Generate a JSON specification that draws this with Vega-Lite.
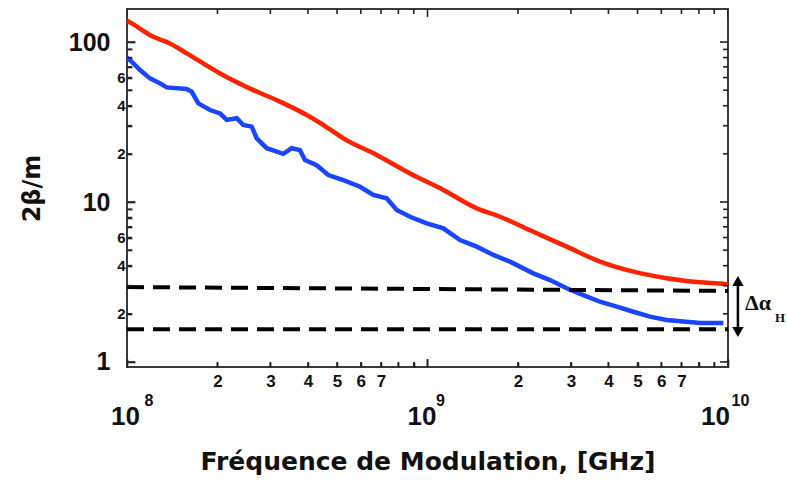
{
  "$schema": "https://vega.github.io/schema/vega-lite/v6.json",
  "width": 601,
  "height": 358,
  "autosize": "none",
  "padding": {"left": 127, "top": 9, "right": 59, "bottom": 117},
  "background": "white",
  "config": {
    "view": {"stroke": "#3a3a3a", "strokeWidth": 2},
    "axis": {"grid": false, "domain": false, "labelColor": "#111", "titleColor": "#111", "labelFlush": false, "labelOverlap": false}
  },
  "datasets": {
    "red": [
      {"f": 1.0e8, "v": 136}, {"f": 1.037e8, "v": 130.9}, {"f": 1.223e8, "v": 107.9}, {"f": 1.39e8, "v": 98.1},
      {"f": 1.58e8, "v": 85.0}, {"f": 2.039e8, "v": 63.7}, {"f": 2.633e8, "v": 50.1}, {"f": 3.229e8, "v": 42.4},
      {"f": 3.963e8, "v": 35.0}, {"f": 4.677e8, "v": 28.9}, {"f": 5.246e8, "v": 25.0}, {"f": 6.776e8, "v": 19.7},
      {"f": 8.745e8, "v": 15.1}, {"f": 1.129e9, "v": 11.9}, {"f": 1.458e9, "v": 9.13}, {"f": 1.743e9, "v": 8.09},
      {"f": 2.249e9, "v": 6.52}, {"f": 2.905e9, "v": 5.26}, {"f": 3.75e9, "v": 4.24}, {"f": 4.841e9, "v": 3.67},
      {"f": 6.252e9, "v": 3.34}, {"f": 8.069e9, "v": 3.15}, {"f": 9.772e9, "v": 3.07}, {"f": 1.0e10, "v": 3.05}
    ],
    "blue": [
      {"f": 1.0e8, "v": 80}, {"f": 1.037e8, "v": 75.3}, {"f": 1.105e8, "v": 66.8}, {"f": 1.193e8, "v": 59.3},
      {"f": 1.288e8, "v": 55.2}, {"f": 1.355e8, "v": 52.1}, {"f": 1.58e8, "v": 50.9}, {"f": 1.642e8, "v": 48.9},
      {"f": 1.727e8, "v": 41.4}, {"f": 1.889e8, "v": 37.6}, {"f": 2.039e8, "v": 35.8}, {"f": 2.147e8, "v": 32.6},
      {"f": 2.318e8, "v": 33.4}, {"f": 2.438e8, "v": 30.3}, {"f": 2.6e8, "v": 29.6}, {"f": 2.702e8, "v": 25.0},
      {"f": 2.917e8, "v": 21.7}, {"f": 3.312e8, "v": 20.0}, {"f": 3.532e8, "v": 21.7}, {"f": 3.764e8, "v": 21.1},
      {"f": 3.911e8, "v": 18.3}, {"f": 4.278e8, "v": 17.0}, {"f": 4.677e8, "v": 14.75}, {"f": 5.246e8, "v": 13.7},
      {"f": 5.963e8, "v": 12.46}, {"f": 6.601e8, "v": 11.06}, {"f": 7.314e8, "v": 10.55}, {"f": 7.898e8, "v": 8.91},
      {"f": 8.745e8, "v": 8.09}, {"f": 9.94e8, "v": 7.36}, {"f": 1.129e9, "v": 6.85}, {"f": 1.283e9, "v": 5.79},
      {"f": 1.458e9, "v": 5.26}, {"f": 1.656e9, "v": 4.67}, {"f": 1.882e9, "v": 4.24}, {"f": 2.249e9, "v": 3.58},
      {"f": 2.557e9, "v": 3.25}, {"f": 2.905e9, "v": 2.89}, {"f": 3.3e9, "v": 2.62}, {"f": 3.75e9, "v": 2.38},
      {"f": 4.263e9, "v": 2.22}, {"f": 4.841e9, "v": 2.06}, {"f": 5.501e9, "v": 1.92}, {"f": 6.252e9, "v": 1.83},
      {"f": 7.101e9, "v": 1.79}, {"f": 8.069e9, "v": 1.75}, {"f": 9.647e9, "v": 1.75}
    ],
    "dash": [
      {"f": 1.0e8, "v": 2.94, "k": "upper"}, {"f": 1.0e10, "v": 2.78, "k": "upper"},
      {"f": 1.0e8, "v": 1.6, "k": "lower"}, {"f": 1.0e10, "v": 1.6, "k": "lower"}
    ],
    "xmaj": [{"f": 1e8}, {"f": 1e9}, {"f": 1e10}],
    "xmin": [{"f": 2e8}, {"f": 3e8}, {"f": 4e8}, {"f": 5e8}, {"f": 6e8}, {"f": 7e8}, {"f": 8e8}, {"f": 9e8},
             {"f": 2e9}, {"f": 3e9}, {"f": 4e9}, {"f": 5e9}, {"f": 6e9}, {"f": 7e9}, {"f": 8e9}, {"f": 9e9}],
    "ymaj": [{"v": 1}, {"v": 10}, {"v": 100}],
    "ymin": [{"v": 2}, {"v": 3}, {"v": 4}, {"v": 5}, {"v": 6}, {"v": 7}, {"v": 8}, {"v": 9},
             {"v": 20}, {"v": 30}, {"v": 40}, {"v": 50}, {"v": 60}, {"v": 70}, {"v": 80}, {"v": 90}],
    "arrow": [{"f": 1.079e10, "v1": 1.63, "v2": 3.03}],
    "headUp": [{"f": 1.079e10, "v": 3.21}],
    "headDown": [{"f": 1.079e10, "v": 1.54}],
    "delta": [{"f": 1.139e10, "v": 2.11, "t": "Δα"}],
    "sub": [{"f": 1.434e10, "v": 1.78, "t": "H"}]
  },
  "layer": [
    {
      "data": {"name": "red"},
      "mark": {"type": "line", "color": "#ff2200", "strokeWidth": 4.5, "interpolate": "monotone"},
      "encoding": {
        "x": {"field": "f", "type": "quantitative", "scale": {"type": "log", "domain": [1e8, 1e10], "nice": false},
          "axis": {"orient": "bottom", "values": [1e8, 1e9, 1e10], "offset": -8, "tickSize": 8, "tickColor": "#222", "tickWidth": 1.6,
            "labelExpr": "'10'",
            "labelOffset": {"condition": [{"test": "datum.value < 5e8", "value": -2}, {"test": "datum.value < 5e9", "value": -6}], "value": -13},
            "labelFont": "Liberation Sans", "labelFontWeight": "bold", "labelFontSize": 26,
            "labelBaseline": "alphabetic", "labelPadding": 57,
            "title": "Fréquence de Modulation, [GHz]", "titleFont": "DejaVu Sans", "titleFontSize": 25,
            "titleFontWeight": "bold", "titlePadding": 20}},
        "y": {"field": "v", "type": "quantitative", "scale": {"type": "log", "domain": [0.93, 161], "nice": false},
          "axis": {"orient": "left", "values": [1, 10, 100], "offset": -8, "tickSize": 8, "tickColor": "#222", "tickWidth": 1.6,
            "labelFont": "Liberation Sans", "labelFontWeight": "bold", "labelFontSize": 25,
            "labelPadding": 17, "labelBaseline": "middle",
            "title": "2β/m", "titleFont": "DejaVu Sans", "titleFontSize": 24, "titleFontWeight": "bold", "titlePadding": 24}}
      }
    },
    {
      "data": {"name": "blue"},
      "mark": {"type": "line", "color": "#1a45ff", "strokeWidth": 4.5},
      "encoding": {
        "x": {"field": "f", "type": "quantitative", "scale": {"type": "log", "domain": [1e8, 1e10], "nice": false},
          "axis": {"orient": "bottom", "values": [2e8, 3e8, 4e8, 5e8, 6e8, 7e8, 8e8, 9e8, 2e9, 3e9, 4e9, 5e9, 6e9, 7e9, 8e9, 9e9],
            "offset": -5, "tickSize": 5, "tickColor": "#222", "tickWidth": 1.6,
            "labelExpr": "round(datum.value / pow(10, floor(log(datum.value)/LN10 + 0.000001))) <= 7 ? '' + round(datum.value / pow(10, floor(log(datum.value)/LN10 + 0.000001))) : ''",
            "labelFont": "Liberation Sans", "labelFontWeight": "bold", "labelFontSize": 17,
            "labelBaseline": "top", "labelPadding": 6, "title": ""}},
        "y": {"field": "v", "type": "quantitative", "scale": {"type": "log", "domain": [0.93, 161], "nice": false},
          "axis": {"orient": "left", "values": [2, 3, 4, 5, 6, 7, 8, 9, 20, 30, 40, 50, 60, 70, 80, 90],
            "offset": -5, "tickSize": 5, "tickColor": "#222", "tickWidth": 1.6,
            "labelExpr": "indexof([2, 4, 6], round(datum.value / pow(10, floor(log(datum.value)/LN10 + 0.000001)))) >= 0 ? '' + round(datum.value / pow(10, floor(log(datum.value)/LN10 + 0.000001))) : ''",
            "labelFont": "Liberation Sans", "labelFontWeight": "bold", "labelFontSize": 15,
            "labelPadding": 2, "labelBaseline": "middle", "title": ""}}
      }
    },
    {
      "data": {"name": "dash"},
      "mark": {"type": "line", "color": "black", "strokeWidth": 4, "strokeDash": [17, 9], "strokeCap": "butt"},
      "encoding": {
        "x": {"field": "f", "type": "quantitative", "scale": {"type": "log", "domain": [1e8, 1e10], "nice": false}, "axis": null},
        "y": {"field": "v", "type": "quantitative", "scale": {"type": "log", "domain": [0.93, 161], "nice": false}, "axis": null},
        "detail": {"field": "k"}
      }
    },
    {
      "data": {"name": "xmaj"},
      "mark": {"type": "tick", "orient": "vertical", "size": 16, "thickness": 1.6, "color": "#222", "opacity": 1, "clip": true},
      "encoding": {
        "x": {"field": "f", "type": "quantitative", "scale": {"type": "log", "domain": [1e8, 1e10], "nice": false}, "axis": null},
        "y": {"datum": 0.93, "type": "quantitative", "scale": {"type": "log", "domain": [0.93, 161], "nice": false}, "axis": null}
      }
    },
    {
      "data": {"name": "xmaj"},
      "mark": {"type": "tick", "orient": "vertical", "size": 16, "thickness": 1.6, "color": "#222", "opacity": 1, "clip": true},
      "encoding": {
        "x": {"field": "f", "type": "quantitative", "scale": {"type": "log", "domain": [1e8, 1e10], "nice": false}, "axis": null},
        "y": {"datum": 161, "type": "quantitative", "scale": {"type": "log", "domain": [0.93, 161], "nice": false}, "axis": null}
      }
    },
    {
      "data": {"name": "xmin"},
      "mark": {"type": "tick", "orient": "vertical", "size": 10, "thickness": 1.6, "color": "#222", "opacity": 1, "clip": true},
      "encoding": {
        "x": {"field": "f", "type": "quantitative", "scale": {"type": "log", "domain": [1e8, 1e10], "nice": false}, "axis": null},
        "y": {"datum": 0.93, "type": "quantitative", "scale": {"type": "log", "domain": [0.93, 161], "nice": false}, "axis": null}
      }
    },
    {
      "data": {"name": "xmin"},
      "mark": {"type": "tick", "orient": "vertical", "size": 10, "thickness": 1.6, "color": "#222", "opacity": 1, "clip": true},
      "encoding": {
        "x": {"field": "f", "type": "quantitative", "scale": {"type": "log", "domain": [1e8, 1e10], "nice": false}, "axis": null},
        "y": {"datum": 161, "type": "quantitative", "scale": {"type": "log", "domain": [0.93, 161], "nice": false}, "axis": null}
      }
    },
    {
      "data": {"name": "ymaj"},
      "mark": {"type": "tick", "orient": "horizontal", "size": 16, "thickness": 1.6, "color": "#222", "opacity": 1, "clip": true},
      "encoding": {
        "x": {"datum": 1e8, "type": "quantitative", "scale": {"type": "log", "domain": [1e8, 1e10], "nice": false}, "axis": null},
        "y": {"field": "v", "type": "quantitative", "scale": {"type": "log", "domain": [0.93, 161], "nice": false}, "axis": null}
      }
    },
    {
      "data": {"name": "ymaj"},
      "mark": {"type": "tick", "orient": "horizontal", "size": 16, "thickness": 1.6, "color": "#222", "opacity": 1, "clip": true},
      "encoding": {
        "x": {"datum": 1e10, "type": "quantitative", "scale": {"type": "log", "domain": [1e8, 1e10], "nice": false}, "axis": null},
        "y": {"field": "v", "type": "quantitative", "scale": {"type": "log", "domain": [0.93, 161], "nice": false}, "axis": null}
      }
    },
    {
      "data": {"name": "ymin"},
      "mark": {"type": "tick", "orient": "horizontal", "size": 10, "thickness": 1.6, "color": "#222", "opacity": 1, "clip": true},
      "encoding": {
        "x": {"datum": 1e8, "type": "quantitative", "scale": {"type": "log", "domain": [1e8, 1e10], "nice": false}, "axis": null},
        "y": {"field": "v", "type": "quantitative", "scale": {"type": "log", "domain": [0.93, 161], "nice": false}, "axis": null}
      }
    },
    {
      "data": {"name": "ymin"},
      "mark": {"type": "tick", "orient": "horizontal", "size": 10, "thickness": 1.6, "color": "#222", "opacity": 1, "clip": true},
      "encoding": {
        "x": {"datum": 1e10, "type": "quantitative", "scale": {"type": "log", "domain": [1e8, 1e10], "nice": false}, "axis": null},
        "y": {"field": "v", "type": "quantitative", "scale": {"type": "log", "domain": [0.93, 161], "nice": false}, "axis": null}
      }
    },
    {
      "data": {"name": "arrow"},
      "mark": {"type": "rule", "color": "black", "strokeWidth": 2.5},
      "encoding": {
        "x": {"field": "f", "type": "quantitative", "scale": {"type": "log", "domain": [1e8, 1e10], "nice": false},
          "axis": {"orient": "bottom", "values": [1e8, 1e9, 1e10], "offset": -8, "tickSize": 8, "tickOpacity": 0,
            "labelExpr": "datum.value < 5e8 ? '8' : (datum.value < 5e9 ? '9' : '10')",
            "labelAlign": "left",
            "labelOffset": {"condition": [{"test": "datum.value < 5e8", "value": 17}, {"test": "datum.value < 5e9", "value": 8}], "value": 3},
            "labelFont": "Liberation Sans", "labelFontWeight": "bold", "labelFontSize": 16,
            "labelBaseline": "alphabetic", "labelPadding": 38, "title": ""}},
        "y": {"field": "v1", "type": "quantitative", "scale": {"type": "log", "domain": [0.93, 161], "nice": false}, "axis": null},
        "y2": {"field": "v2"}
      }
    },
    {
      "data": {"name": "headUp"},
      "mark": {"type": "point", "shape": "triangle-up", "filled": true, "color": "black", "size": 130, "opacity": 1},
      "encoding": {
        "x": {"field": "f", "type": "quantitative", "scale": {"type": "log", "domain": [1e8, 1e10], "nice": false}, "axis": null},
        "y": {"field": "v", "type": "quantitative", "scale": {"type": "log", "domain": [0.93, 161], "nice": false}, "axis": null}
      }
    },
    {
      "data": {"name": "headDown"},
      "mark": {"type": "point", "shape": "triangle-down", "filled": true, "color": "black", "size": 130, "opacity": 1},
      "encoding": {
        "x": {"field": "f", "type": "quantitative", "scale": {"type": "log", "domain": [1e8, 1e10], "nice": false}, "axis": null},
        "y": {"field": "v", "type": "quantitative", "scale": {"type": "log", "domain": [0.93, 161], "nice": false}, "axis": null}
      }
    },
    {
      "data": {"name": "delta"},
      "mark": {"type": "text", "font": "Liberation Serif", "fontWeight": "bold", "fontSize": 22, "align": "left", "baseline": "alphabetic", "color": "#111"},
      "encoding": {
        "x": {"field": "f", "type": "quantitative", "scale": {"type": "log", "domain": [1e8, 1e10], "nice": false}, "axis": null},
        "y": {"field": "v", "type": "quantitative", "scale": {"type": "log", "domain": [0.93, 161], "nice": false}, "axis": null},
        "text": {"field": "t"}
      }
    },
    {
      "data": {"name": "sub"},
      "mark": {"type": "text", "font": "Liberation Serif", "fontWeight": "bold", "fontSize": 13, "align": "left", "baseline": "alphabetic", "color": "#111"},
      "encoding": {
        "x": {"field": "f", "type": "quantitative", "scale": {"type": "log", "domain": [1e8, 1e10], "nice": false}, "axis": null},
        "y": {"field": "v", "type": "quantitative", "scale": {"type": "log", "domain": [0.93, 161], "nice": false}, "axis": null},
        "text": {"field": "t"}
      }
    }
  ],
  "resolve": {"axis": {"x": "independent", "y": "independent"}}
}
